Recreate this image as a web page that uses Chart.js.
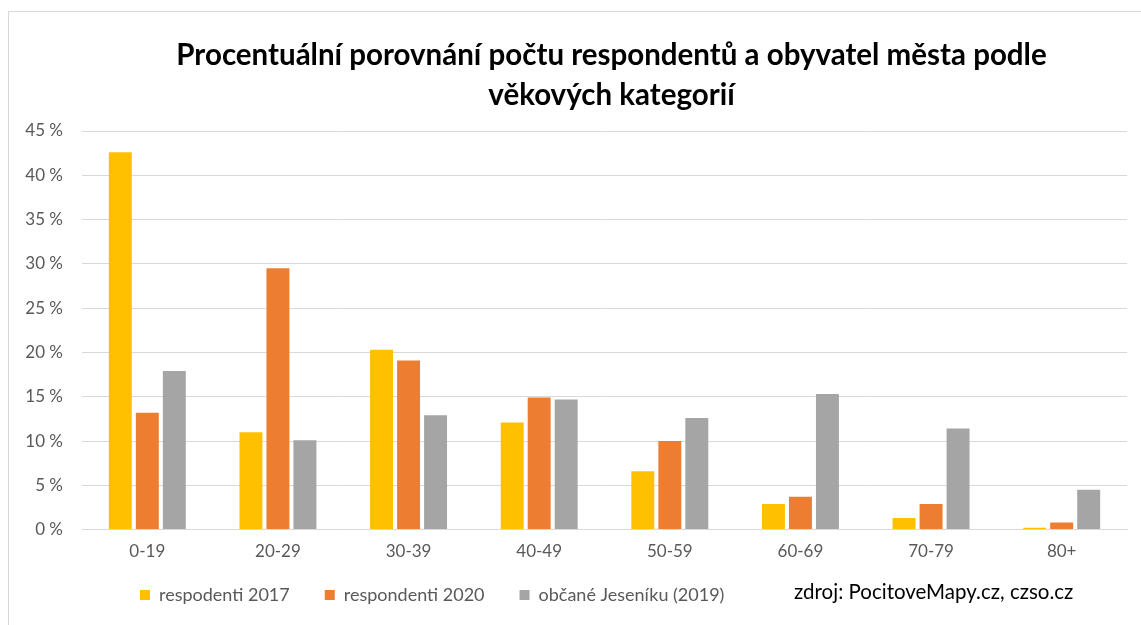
<!DOCTYPE html>
<html>
<head>
<meta charset="utf-8">
<script src="https://cdn.jsdelivr.net/npm/chart.js@4"></script>
<style>
  html, body { margin: 0; padding: 0; background: #fff; overflow: hidden; }
  #wrap { position: relative; width: 1141px; height: 625px; }
  #frame { position: absolute; left: 8px; top: 11px; width: 1200px; height: 700px; border: 1px solid #d9d9d9; }
  #chart { position: absolute; left: 0; top: 0; }
  #zdroj { position: absolute; left: 794px; top: 579px; font: 20.5px Lato, sans-serif; color: #000; white-space: nowrap; }
</style>
</head>
<body>
<div id="wrap">
  <div id="frame"></div>
  <canvas id="chart" width="1141" height="625"></canvas>
  <div id="zdroj">zdroj: PocitoveMapy.cz, czso.cz</div>
</div>
<script>
// věkové kategorie
const kategorie = ['0-19', '20-29', '30-39', '40-49', '50-59', '60-69', '70-79', '80+'];

// hodnoty v procentech
const respondenti2017 = [42.6, 11.0, 20.3, 12.1, 6.6, 2.9, 1.3, 0.2];
const respondenti2020 = [13.2, 29.5, 19.1, 14.9, 10.0, 3.7, 2.9, 0.8];
const obcane2019 = [17.9, 10.1, 12.9, 14.7, 12.6, 15.3, 11.4, 4.5];

// popisky osy Y
const yTicks = [0, 5, 10, 15, 20, 25, 30, 35, 40, 45];

const textColor = '#595959';
const font = 'Lato';

// legenda a nadpis posunuté jako v originálu
const layoutFix = {
    id: 'layoutFix',
    beforeLayout(chart) {
        const lg = chart.legend;
        if (lg && !lg._patched) {
            const fit = lg.fit.bind(lg);
            lg.fit = function () { fit(); this.height = 51; };
            lg._patched = true;
        }
    },
    beforeDraw(chart) {
        const lg = chart.legend;
        const w = lg.right - lg.left;
        lg.left = 105;
        lg.right = lg.left + w;
        lg.top = 551;
        lg.bottom = 625;

        const t = chart.titleBlock;
        t.left += 48;
        t.right += 48;
    }
};

const ctx = document.getElementById('chart').getContext('2d');

new Chart(ctx, {
    type: 'bar',
    data: {
        labels: kategorie,
        datasets: [
            { label: 'respodenti 2017', data: respondenti2017, backgroundColor: '#FFC000' },
            { label: 'respondenti 2020', data: respondenti2020, backgroundColor: '#ED7D31' },
            { label: 'občané Jeseníku (2019)', data: obcane2019, backgroundColor: '#A5A5A5' }
        ]
    },
    options: {
        responsive: false,
        animation: false,
        layout: { padding: { left: 0, right: 14, top: 0, bottom: 0 } },
        datasets: {
            bar: { categoryPercentage: 0.62, barPercentage: 0.85 }
        },
        scales: {
            x: {
                grid: { display: false, drawTicks: false },
                border: { color: '#d9d9d9' },
                ticks: { color: textColor, padding: 12, font: { family: font, size: 17 } }
            },
            y: {
                min: 0,
                max: 45,
                afterBuildTicks(scale) {
                    scale.ticks = yTicks.map(v => ({ value: v }));
                },
                afterFit(scale) {
                    scale.width = 82;
                },
                grid: { color: '#d9d9d9', drawTicks: false },
                border: { display: false },
                ticks: {
                    color: textColor,
                    padding: 19,
                    font: { family: font, size: 17 },
                    callback: v => v + ' %'
                }
            }
        },
        plugins: {
            title: {
                display: true,
                text: ['Procentuální porovnání počtu respondentů a obyvatel města podle', 'věkových kategorií'],
                color: '#000',
                font: { family: font, size: 29.5, weight: 'bold', lineHeight: 1.356 },
                padding: { top: 35, bottom: 16 }
            },
            legend: {
                position: 'bottom',
                align: 'start',
                labels: {
                    color: textColor,
                    boxWidth: 10,
                    boxHeight: 10,
                    padding: 35,
                    font: { family: font, size: 18 }
                }
            },
            tooltip: { enabled: false }
        }
    },
    plugins: [layoutFix]
});
</script>
</body>
</html>
